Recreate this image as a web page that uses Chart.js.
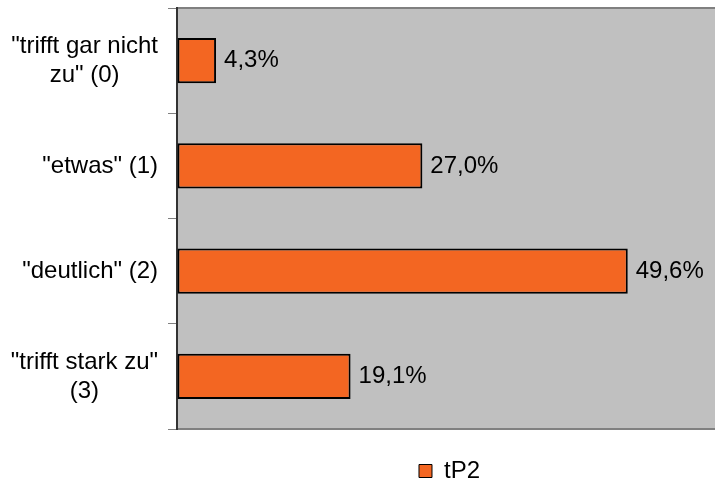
<!DOCTYPE html>
<html>
<head>
<meta charset="utf-8">
<script src="https://cdn.jsdelivr.net/npm/chart.js@4.4.1/dist/chart.umd.min.js"></script>
<style>
  html, body { margin: 0; padding: 0; background: #fff; overflow: hidden; }
  #wrap { width: 715px; height: 484px; }
</style>
</head>
<body>
<div id="wrap"><canvas id="c" width="715" height="484"></canvas></div>
<script>
const categories = [
  ['"trifft gar nicht', 'zu" (0)'],
  ['"etwas" (1)'],
  ['"deutlich" (2)'],
  ['"trifft stark zu"', '(3)']
];
const seriesName = 'tP2';
const values = [4.3, 27.0, 49.6, 19.1];

const FONT = '"Liberation Sans", Arial, sans-serif';
const FONT_SIZE = 24;
const ORANGE = '#F36622';

// Plot background and top frame line
const plotFrame = {
  id: 'plotFrame',
  beforeDraw(chart) {
    const { ctx, chartArea: a } = chart;
    ctx.save();
    ctx.fillStyle = '#C0C0C0';
    ctx.fillRect(a.left, a.top, a.right - a.left, a.bottom - a.top);
    ctx.strokeStyle = '#808080';
    ctx.lineWidth = 2;
    ctx.beginPath();
    ctx.moveTo(a.left, a.top);
    ctx.lineTo(a.right, a.top);
    ctx.stroke();
    ctx.restore();
  }
};

// Category labels: block right-aligned to the axis, lines centred inside the block
const categoryLabels = {
  id: 'categoryLabels',
  afterDraw(chart) {
    const { ctx } = chart;
    const y = chart.scales.y;
    ctx.save();
    ctx.font = FONT_SIZE + 'px ' + FONT;
    ctx.fillStyle = '#000';
    ctx.textAlign = 'center';
    ctx.textBaseline = 'middle';
    const right = y.right - 19;
    const lh = 29;
    categories.forEach((lines, i) => {
      const cy = y.getPixelForValue(i);
      const widest = Math.max(...lines.map(l => ctx.measureText(l).width));
      const cx = right - widest / 2;
      const y0 = cy - (lines.length - 1) * lh / 2;
      lines.forEach((l, k) => ctx.fillText(l, cx, y0 + k * lh));
    });
    ctx.restore();
  }
};

// Value labels to the right of each bar
const valueLabels = {
  id: 'valueLabels',
  afterDatasetsDraw(chart) {
    const { ctx } = chart;
    const meta = chart.getDatasetMeta(0);
    ctx.save();
    ctx.font = FONT_SIZE + 'px ' + FONT;
    ctx.fillStyle = '#000';
    ctx.textAlign = 'left';
    ctx.textBaseline = 'middle';
    meta.data.forEach((bar, i) => {
      const txt = values[i].toFixed(1).replace('.', ',') + '%';
      ctx.fillText(txt, bar.x + 8, bar.y);
    });
    ctx.restore();
  }
};

// The legend sits centred under the full (wider) chart frame
const legendShift = {
  id: 'legendShift',
  afterLayout(chart) {
    const lg = chart.legend;
    const dx = 92, dy = 9;
    lg.left += dx;
    lg.right += dx;
    lg.top += dy;
    lg.bottom += dy;
  }
};

new Chart(document.getElementById('c'), {
  type: 'bar',
  data: {
    labels: categories,
    datasets: [{
      label: seriesName,
      data: values,
      backgroundColor: ORANGE,
      borderColor: '#000',
      borderWidth: 2,
      borderSkipped: false,
      categoryPercentage: 1,
      barPercentage: 0.43
    }]
  },
  options: {
    indexAxis: 'y',
    responsive: false,
    animation: false,
    layout: { padding: { top: 8, left: 0, right: 0, bottom: 0 } },
    scales: {
      x: {
        min: 0,
        max: 59.2,
        ticks: { display: false },
        grid: { display: true, drawOnChartArea: false, drawTicks: false },
        border: { display: true, color: '#808080', width: 2 },
        afterFit(scale) { scale.height = 19; }
      },
      y: {
        type: 'category',
        ticks: { display: false },
        grid: { drawOnChartArea: false, drawTicks: true, tickLength: 9, color: '#808080', offset: true },
        border: { display: true, color: '#333', width: 2 },
        afterFit(scale) { scale.width = 177; }
      }
    },
    plugins: {
      legend: {
        position: 'bottom',
        labels: {
          font: { family: FONT, size: FONT_SIZE },
          color: '#000',
          boxWidth: 13,
          boxHeight: 13,
          padding: 2,
          generateLabels(chart) {
            return [{
              text: seriesName,
              fillStyle: ORANGE,
              strokeStyle: '#000',
              lineWidth: 1,
              datasetIndex: 0
            }];
          }
        }
      },
      tooltip: { enabled: false }
    }
  },
  plugins: [plotFrame, categoryLabels, valueLabels, legendShift]
});
</script>
</body>
</html>
